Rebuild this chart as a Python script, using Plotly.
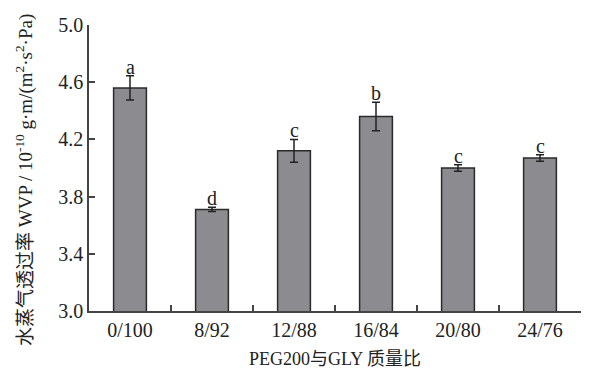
import plotly.graph_objects as go

# PEG200 / GLY mass ratios and measured water vapour permeability
ratios = ["0/100", "8/92", "12/88", "16/84", "20/80", "24/76"]
wvp = [4.56, 3.71, 4.12, 4.36, 4.00, 4.07]
wvp_err = [0.085, 0.015, 0.08, 0.10, 0.022, 0.022]
sig_letters = ["a", "d", "c", "b", "c", "c"]

y_ticks = [3.0, 3.4, 3.8, 4.2, 4.6, 5.0]

x_title = "PEG200与GLY 质量比"
y_title = "水蒸气透过率 WVP / 10<sup>-10</sup> g·m/(m<sup>2</sup>·s<sup>2</sup>·Pa)"

serif = "Liberation Serif, Times New Roman, Noto Sans CJK SC, serif"

fig = go.Figure()
fig.add_trace(go.Bar(
    x=ratios,
    y=wvp,
    width=0.4,
    marker=dict(color="#8c8c90", line=dict(color="#2a2a2a", width=1.5)),
    error_y=dict(type="data", array=wvp_err, visible=True,
                 color="#222222", thickness=1.5, width=4),
    showlegend=False,
))

# significance letters above each error bar
for cat, v, e, s in zip(ratios, wvp, wvp_err, sig_letters):
    fig.add_annotation(x=cat, y=v + e, text=s, showarrow=False,
                       yanchor="bottom", yshift=-4,
                       font=dict(family=serif, size=20, color="#222222"))

# axis titles
fig.add_annotation(xref="paper", yref="paper", x=0.5, y=0, yshift=-48,
                   xanchor="center", yanchor="middle", showarrow=False,
                   text=x_title, font=dict(family=serif, size=18, color="#222222"))
fig.add_annotation(xref="paper", yref="paper", x=0, xshift=-65, y=0.5, yshift=-12,
                   xanchor="center", yanchor="middle", showarrow=False, textangle=-90,
                   text=y_title, font=dict(family=serif, size=19, color="#222222"))

fig.update_layout(
    width=594, height=371,
    margin=dict(l=89, r=13, t=25, b=60),
    paper_bgcolor="white", plot_bgcolor="white",
    font=dict(family=serif, color="#222222"),
    bargap=0.6,
)
fig.update_xaxes(
    showline=True, linecolor="#444444", linewidth=1.5,
    ticks="inside", tickson="boundaries", ticklen=6, tickcolor="#444444", tickwidth=1.5,
    tickfont=dict(size=20, family=serif),
    range=[-0.5, 5.5], showgrid=False, automargin=False,
)
fig.update_yaxes(
    range=[3.0, 5.0], tickvals=y_ticks, ticktext=[f"{t:.1f}" for t in y_ticks],
    showline=True, linecolor="#444444", linewidth=1.5,
    ticks="inside", ticklen=6, tickcolor="#444444", tickwidth=1.5,
    tickfont=dict(size=20, family=serif),
    showgrid=False, zeroline=False, automargin=False,
)

fig.write_html("out.html")
